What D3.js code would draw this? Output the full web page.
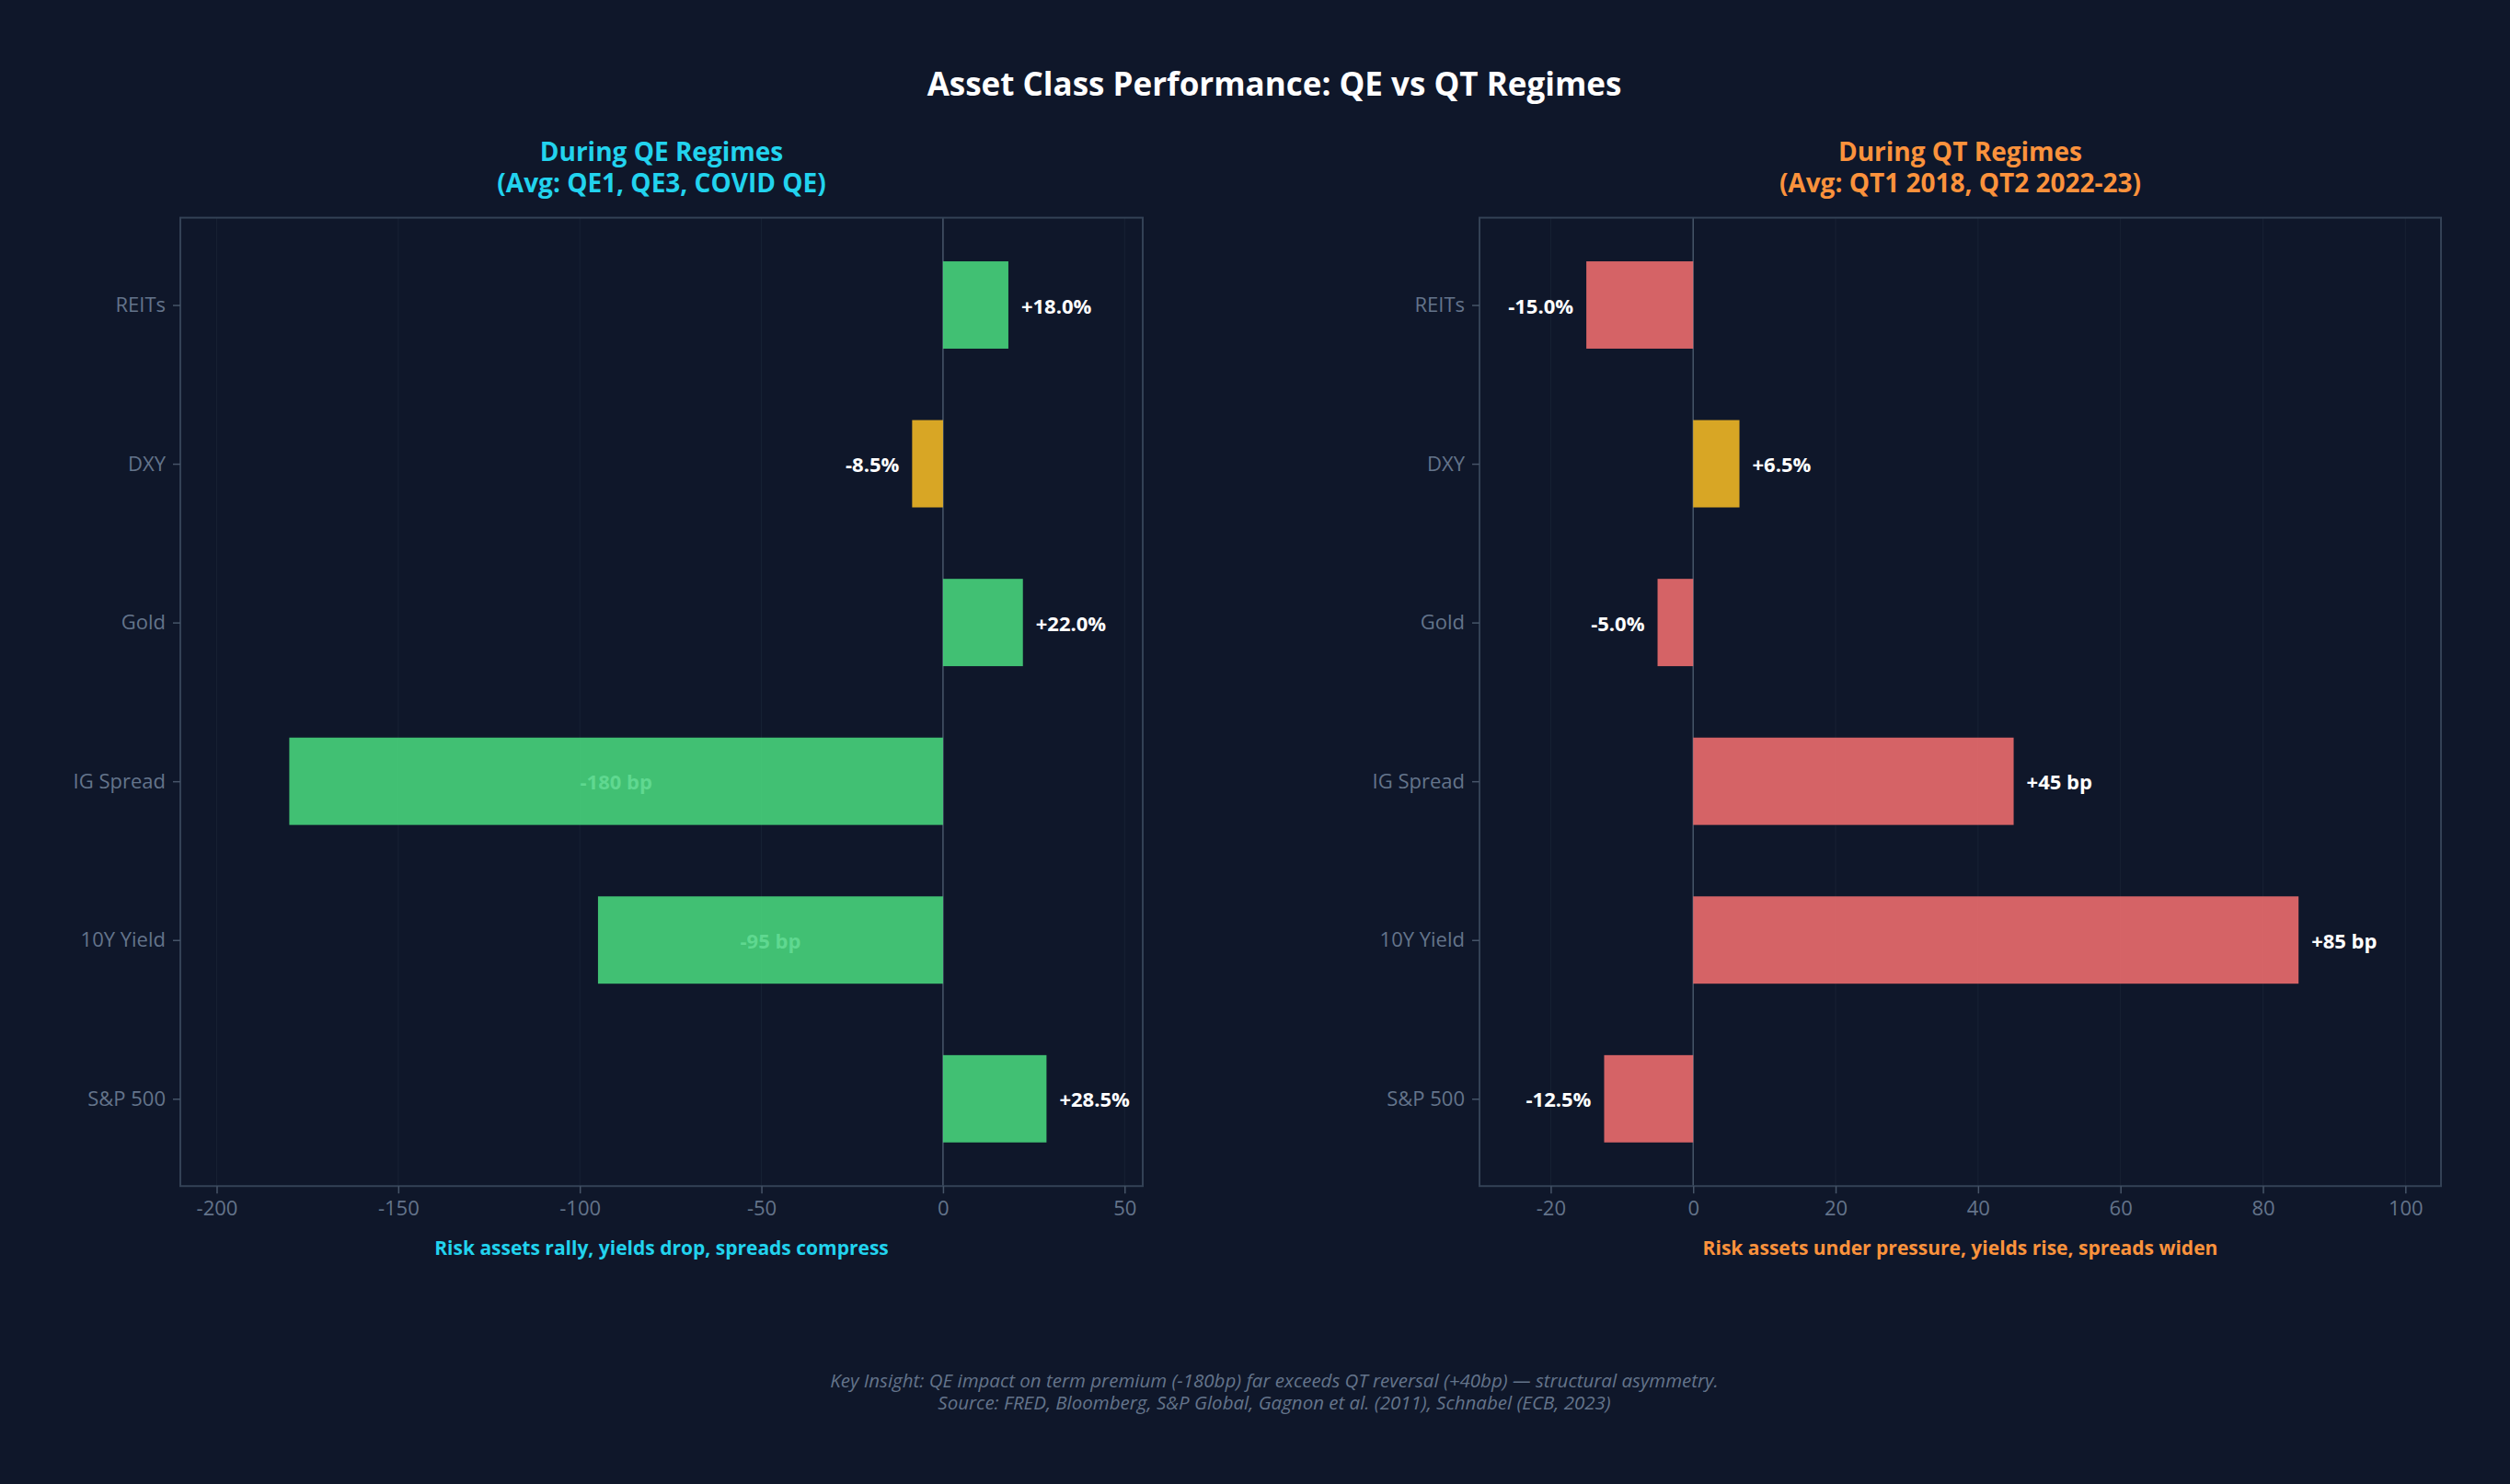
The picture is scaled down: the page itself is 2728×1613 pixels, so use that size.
<!DOCTYPE html>
<html>
<head>
<meta charset="utf-8">
<script src="https://cdn.jsdelivr.net/npm/d3@7"></script>
<style>
  body { margin: 0; background: #0f172a; }
  text { font-family: "Open Sans", "Noto Sans", sans-serif; }
</style>
</head>
<body>
<script>
var w = 2728;
var h = 1613;

// categories, bottom to top (matplotlib barh order)
var assets = ["S&P 500", "10Y Yield", "IG Spread", "Gold", "DXY", "REITs"];
var units = ["%", "bp", "bp", "%", "%", "%"];

var qeValues = [28.5, -95, -180, 22.0, -8.5, 18.0];
var qtValues = [-12.5, 85, 45, -5.0, 6.5, -15.0];

var qeTicks = [-200, -150, -100, -50, 0, 50];
var qtTicks = [-20, 0, 20, 40, 60, 80, 100];

var green = "#4ade80", red = "#f87171", gold = "#fbbf24";

var svg = d3.select("body").append("svg").attr("width", w).attr("height", h);

svg.append("rect").attr("width", w).attr("height", h).attr("fill", "#0f172a");

svg.append("text")
  .attr("x", 1385).attr("y", 90)
  .attr("text-anchor", "middle").attr("dominant-baseline", "central")
  .attr("fill", "#ffffff").attr("font-size", 35).attr("font-weight", "bold")
  .text("Asset Class Performance: QE vs QT Regimes");

var plotTop = 236.6, plotBottom = 1289.2;

var y = d3.scaleLinear().domain([-0.55, 5.55]).range([plotBottom, plotTop]);
var barH = y(0) - y(0.55);

function fmt(v, u) {
  var s = v > 0 ? "+" : "";
  if (u == "bp") return s + v + " bp";
  return s + v.toFixed(1) + "%";
}

function panel(opt) {
  var x = d3.scaleLinear().domain(opt.domain).range([opt.left, opt.right]);
  var g = svg.append("g");

  // faint grid
  g.selectAll(".grid").data(opt.ticks).enter().append("line")
    .attr("x1", function(d) { return x(d); }).attr("x2", function(d) { return x(d); })
    .attr("y1", plotTop).attr("y2", plotBottom)
    .attr("stroke", "#1e293b").attr("stroke-width", 1).attr("opacity", 0.6);

  // zero line
  g.append("line")
    .attr("x1", x(0)).attr("x2", x(0)).attr("y1", plotTop).attr("y2", plotBottom)
    .attr("stroke", "#475569").attr("stroke-width", 1.5);

  g.selectAll(".bar").data(opt.values).enter().append("rect")
    .attr("x", function(d) { return Math.min(x(0), x(d)); })
    .attr("width", function(d) { return Math.abs(x(d) - x(0)); })
    .attr("y", function(d, i) { return y(i) - barH / 2; })
    .attr("height", barH)
    .attr("fill", function(d, i) { return opt.colors[i]; })
    .attr("opacity", 0.85);

  g.selectAll(".val").data(opt.values).enter().append("text")
    .attr("x", function(d, i) {
      if (opt.inside[i]) return x(d / 2);
      return d >= 0 ? x(d) + 14 : x(d) - 14;
    })
    .attr("y", function(d, i) { return y(i); })
    .attr("dominant-baseline", "central")
    .attr("text-anchor", function(d, i) {
      if (opt.inside[i]) return "middle";
      return d >= 0 ? "start" : "end";
    })
    .attr("fill", function(d, i) { return opt.inside[i] ? "#5fd890" : "#ffffff"; })
    .attr("font-size", 22).attr("font-weight", "bold")
    .text(function(d, i) { return fmt(d, units[i]); });

  // frame
  g.append("rect")
    .attr("x", opt.left).attr("y", plotTop)
    .attr("width", opt.right - opt.left).attr("height", plotBottom - plotTop)
    .attr("fill", "none").attr("stroke", "#334155").attr("stroke-width", 2);

  var xAxis = g.append("g")
    .attr("transform", "translate(0," + plotBottom + ")")
    .call(d3.axisBottom(x).tickValues(opt.ticks).tickSize(8).tickPadding(8).tickFormat(d3.format("d")));
  xAxis.select(".domain").remove();
  xAxis.selectAll("line").attr("stroke", "#475569").attr("stroke-width", 1.5);
  xAxis.selectAll("text").attr("fill", "#64748b").attr("font-size", 22)
    .text(function(d) { return d < 0 ? "-" + Math.abs(d) : d; });

  var yAxis = g.append("g")
    .attr("transform", "translate(" + opt.left + ",0)")
    .call(d3.axisLeft(y).tickValues(d3.range(assets.length)).tickSize(8).tickPadding(8)
      .tickFormat(function(i) { return assets[i]; }));
  yAxis.select(".domain").remove();
  yAxis.selectAll("line").attr("stroke", "#475569").attr("stroke-width", 1.5);
  yAxis.selectAll("text").attr("fill", "#64748b").attr("font-size", 22);

  var cx = (opt.left + opt.right) / 2;
  svg.append("text")
    .attr("x", cx).attr("y", 164)
    .attr("text-anchor", "middle").attr("dominant-baseline", "central")
    .attr("fill", opt.accent).attr("font-size", 28).attr("font-weight", "bold")
    .text(opt.title1);
  svg.append("text")
    .attr("x", cx).attr("y", 198)
    .attr("text-anchor", "middle").attr("dominant-baseline", "central")
    .attr("fill", opt.accent).attr("font-size", 28).attr("font-weight", "bold")
    .text(opt.title2);

  svg.append("text")
    .attr("x", cx).attr("y", 1356)
    .attr("text-anchor", "middle").attr("dominant-baseline", "central")
    .attr("fill", opt.accent).attr("font-size", 21).attr("font-weight", "bold")
    .text(opt.note);
}

panel({
  left: 196, right: 1242,
  domain: [-210, 55],
  ticks: qeTicks,
  values: qeValues,
  colors: [green, green, green, green, gold, green],
  inside: [false, true, true, false, false, false],
  accent: "#22d3ee",
  title1: "During QE Regimes",
  title2: "(Avg: QE1, QE3, COVID QE)",
  note: "Risk assets rally, yields drop, spreads compress"
});

panel({
  left: 1608, right: 2653,
  domain: [-30, 105],
  ticks: qtTicks,
  values: qtValues,
  colors: [red, red, red, red, gold, red],
  inside: [false, false, false, false, false, false],
  accent: "#fb923c",
  title1: "During QT Regimes",
  title2: "(Avg: QT1 2018, QT2 2022-23)",
  note: "Risk assets under pressure, yields rise, spreads widen"
});

svg.append("text")
  .attr("x", 1385).attr("y", 1500)
  .attr("text-anchor", "middle").attr("dominant-baseline", "central")
  .attr("fill", "#64748b").attr("font-size", 20.5).attr("font-style", "italic")
  .text("Key Insight: QE impact on term premium (-180bp) far exceeds QT reversal (+40bp) \u2014 structural asymmetry.");
svg.append("text")
  .attr("x", 1385).attr("y", 1524)
  .attr("text-anchor", "middle").attr("dominant-baseline", "central")
  .attr("fill", "#64748b").attr("font-size", 20.5).attr("font-style", "italic")
  .text("Source: FRED, Bloomberg, S&P Global, Gagnon et al. (2011), Schnabel (ECB, 2023)");
</script>
</body>
</html>
